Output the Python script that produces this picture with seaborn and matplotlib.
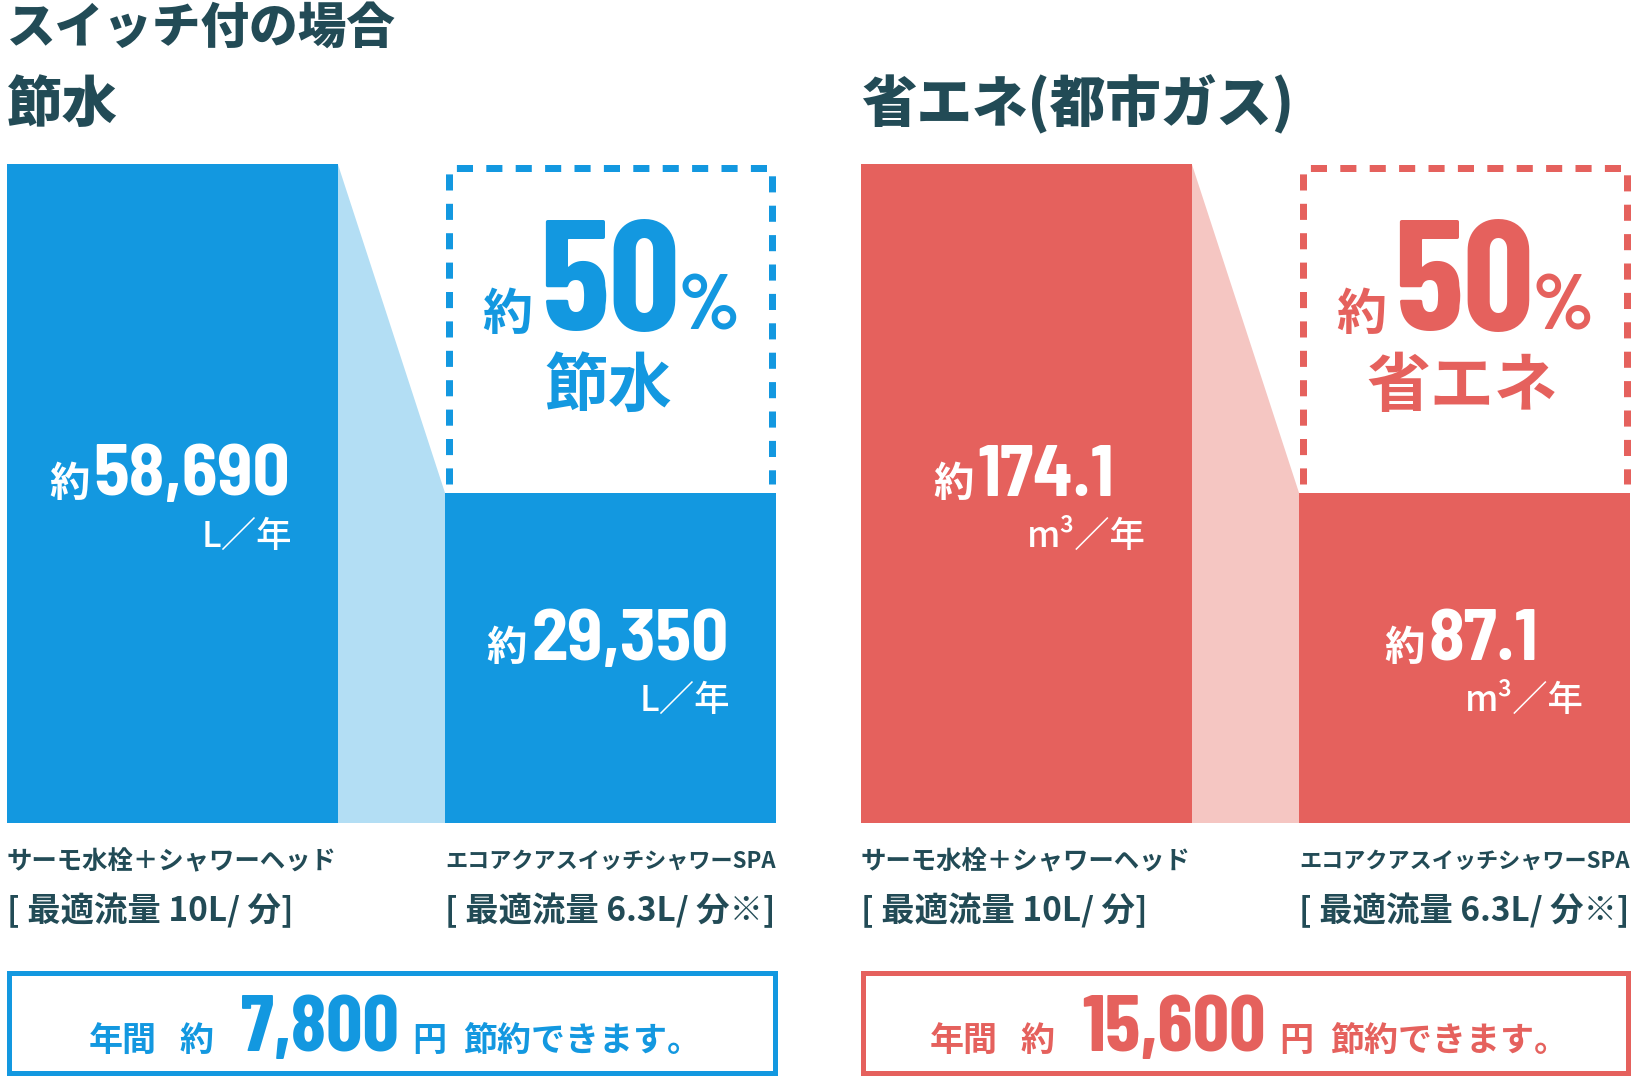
import matplotlib
matplotlib.use("Agg")
import matplotlib.pyplot as plt
from matplotlib import font_manager
import pandas as pd
import seaborn as sns

# chart data
products = ["サーモ水栓＋シャワーヘッド", "エコアクアスイッチシャワーSPA"]
flow_notes = ["[ 最適流量 10L/ 分]", "[ 最適流量 6.3L/ 分※]"]
water_use = [58690, 29350]   # L/年
gas_use = [174.1, 87.1]      # m3/年
yen_saved = [7800, 15600]    # 円/年
panel_titles = ["節水", "省エネ(都市ガス)"]
badge_words = ["節水", "省エネ"]
units = ["L／年", "m³／年"]
value_fmt = ["{:,.0f}", "{:.1f}"]

BLUE, BLUE_LIGHT = "#1398e0", "#b3def4"
RED, RED_LIGHT = "#e5615d", "#f5c6c2"
INK = "#224b56"

W, H = 1640, 1090
BAR_W = 0.755

sns.set_theme(style="white")
CJK = ["Noto Sans CJK JP", "DejaVu Sans"]
plt.rcParams["font.family"] = CJK

# condensed faces for the numbers, falling back to what is installed
installed = {f.name for f in font_manager.fontManager.ttflist}
cands = ["Barlow Condensed", "Roboto Condensed", "Asap Condensed", "Archivo Narrow",
         "Liberation Sans Narrow"]
num_face = next((c for c in cands if c in installed), "Liberation Sans")
semi_face = "Barlow Semi Condensed" if "Barlow Semi Condensed" in installed else num_face
NUM = [num_face, "Noto Sans CJK JP", "DejaVu Sans"]
NUM_SEMI = [semi_face, "Noto Sans CJK JP", "DejaVu Sans"]

fig = plt.figure(figsize=(W / 100, H / 100), dpi=100)
fig.patch.set_facecolor("white")
renderer = fig.canvas.get_renderer()


def put_runs(items, x, y, gaps=None, align="center"):
    """Lay text pieces side by side on one baseline; x, y are pixels from the top-left."""
    gaps = gaps or [0] * len(items)
    texts = [fig.text(0, 0, s, ha="left", va="baseline", **kw) for s, kw in items]
    widths = [t.get_window_extent(renderer).width for t in texts]
    total = sum(widths) + sum(gaps[1:])
    cur = {"left": x, "center": x - total / 2, "right": x - total}[align]
    for i, (t, w) in enumerate(zip(texts, widths)):
        if i:
            cur += gaps[i]
        t.set_position((cur / W, 1 - y / H))
        cur += w
    return texts


def to_px(ax, xy):
    dx, dy = ax.transData.transform(xy)
    return dx, H - dy


# titles
fig.text(7 / W, 1 - 43 / H, "スイッチ付の場合", fontsize=35, fontweight="black",
         color=INK, va="baseline")

panels = [water_use, gas_use]
for k, values in enumerate(panels):
    main, light = [(BLUE, BLUE_LIGHT), (RED, RED_LIGHT)][k]
    x0 = [7, 861][k]
    x1 = x0 + 769
    top, bottom = 164, 823

    fig.text(x0 / W, 1 - 122 / H, panel_titles[k], fontsize=40, fontweight="black",
             color=INK, va="baseline")

    ax = fig.add_axes([x0 / W, 1 - bottom / H, (x1 - x0) / W, (bottom - top) / H])
    df = pd.DataFrame({"product": products, "value": values})
    sns.barplot(data=df, x="product", y="value", color=main, saturation=1,
                width=BAR_W, linewidth=0, errorbar=None, ax=ax)
    ax.set_xlim(-BAR_W / 2, 1 + BAR_W / 2)
    ax.set_ylim(0, max(values))
    ax.axis("off")

    # light band joining the two bar tops
    ax.fill([BAR_W / 2, 1 - BAR_W / 2, 1 - BAR_W / 2, BAR_W / 2],
            [0, 0, values[1], values[0]], color=light, lw=0, zorder=0)

    # dashed frame over the smaller bar
    lw_px = 7
    xl, yb = ax.transData.transform((1 - BAR_W / 2, values[1]))
    xr, yt = ax.transData.transform((1 + BAR_W / 2, values[0]))
    pts = [(xl + lw_px / 2, yb + 9), (xl + lw_px / 2, yt - lw_px / 2),
           (xr - lw_px / 2, yt - lw_px / 2), (xr - lw_px / 2, yb + 9)]
    dpts = ax.transData.inverted().transform(pts)
    ax.plot(dpts[:, 0], dpts[:, 1], color=main, lw=lw_px * 0.72, dashes=(2.3, 1.9),
            dash_capstyle="butt", clip_on=False)

    pct = round((1 - values[1] / values[0]) * 100)
    bx = (xl + xr) / 2
    frame_top = H - yt
    put_runs([("約", dict(fontsize=36, fontweight="bold", color=main, family=CJK)),
              (str(pct), dict(fontsize=113, fontweight="bold", color=main, family=NUM)),
              ("%", dict(fontsize=57, fontweight="bold", color=main, family=NUM))],
             bx, frame_top + 166, gaps=[0, 8, -1])
    put_runs([(badge_words[k], dict(fontsize=46, fontweight="bold", color=main))],
             bx - 2, frame_top + 242)

    for i, v in enumerate(values):
        cx, cy = to_px(ax, (i, v / 2))
        put_runs([("約", dict(fontsize=29, fontweight="bold", color="white", family=CJK)),
                  (value_fmt[k].format(v), dict(fontsize=52.5, fontweight="bold",
                                                color="white", family=NUM_SEMI))],
                 cx - 3, cy + 2, gaps=[0, 4])
        rx, _ = to_px(ax, (i + BAR_W / 2, 0))
        put_runs([(units[k], dict(fontsize=25.5, fontweight="medium", color="white"))],
                 rx - 46, cy + 53, align="right")

        # product name and flow rate under each bar, shrunk to the bar width
        lx, _ = to_px(ax, (i - BAR_W / 2, 0))
        bar_px = rx - lx
        for line, row in [(products[i], 0), (flow_notes[i], 1)]:
            t = fig.text(lx / W, 0, line, fontsize=24, fontweight="bold", color=INK,
                         va="baseline")
            w = t.get_window_extent(renderer).width
            if w > bar_px:
                t.set_fontsize(24 * bar_px / w)
            em = t.get_fontsize() * 100 / 72
            centre = [860, 909][row]
            t.set_y(1 - (centre + 0.36 * em) / H)

    # yearly saving box
    bl, br, bt, bb = x0 + 2.5, x1 + 1 - 2.5, 970 + 2.5, 1075 - 2.5
    axb = fig.add_axes([bl / W, 1 - bb / H, (br - bl) / W, (bb - bt) / H])
    axb.set_xticks([])
    axb.set_yticks([])
    for sp in axb.spines.values():
        sp.set_color(main)
        sp.set_linewidth(5 * 0.72)
    small = dict(fontsize=24.5, fontweight="bold", color=main, family=CJK)
    put_runs([("年間", small), ("約", small),
              (f"{yen_saved[k]:,}", dict(fontsize=58, fontweight="bold", color=main, family=NUM)),
              ("円", small), ("節約できます。", small)],
             (bl + br) / 2 + 3, 1051, gaps=[0, 23, 27, 14, 17])

fig.savefig("out.png", dpi=100, facecolor="white")
